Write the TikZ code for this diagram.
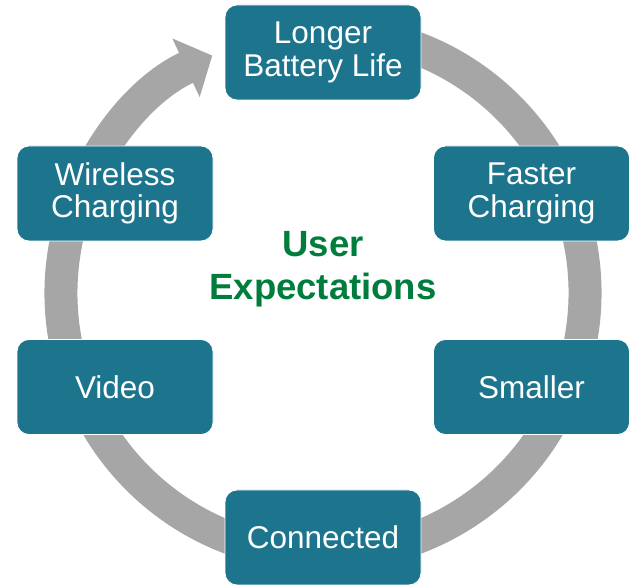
\documentclass[tikz,border=0pt]{standalone}
\usepackage{fontspec}
\setmainfont{Liberation Sans}
\usepackage{tikz}
\usepackage{xcolor}
\usetikzlibrary{arrows.meta}

\definecolor{boxteal}{RGB}{29,116,141}
\definecolor{ringgray}{RGB}{166,166,166}
\definecolor{usergreen}{RGB}{0,125,60}

\begin{document}
\begin{tikzpicture}[x=1pt,y=1pt,
  goal/.style={fill=boxteal, draw=white, line width=0.8pt, rounded corners=12pt,
    minimum width=196pt, minimum height=95pt, inner sep=0pt, align=center,
    text=white, font=\fontsize{31.5}{32.5}\selectfont}]

\useasboundingbox (0,0) rectangle (631,585);

\coordinate (hub) at (323,292);
\draw [ringgray, line width=33pt, -{Triangle[width=63pt,length=29pt]}]
  ([shift={(80:262)}]hub) arc [start angle=80, end angle=-245, radius=262];

\foreach \n / \x / \y / \t in {long/323/532.5/{Longer\\Battery Life},
  fast/531.5/391.5/{Faster\\Charging}, small/531.5/198/{Smaller},
  conn/323/47.5/{Connected}, video/115/198/{Video},
  wire/115/391.5/{Wireless\\Charging}}
{ \node (\n) at (\x,\y) [goal] {\t};
}

\node (expect) at (323,316) [text=usergreen, align=center,
  font=\bfseries\fontsize{36.5}{43}\selectfont] {User\\Expectations};
\end{tikzpicture}
\end{document}
